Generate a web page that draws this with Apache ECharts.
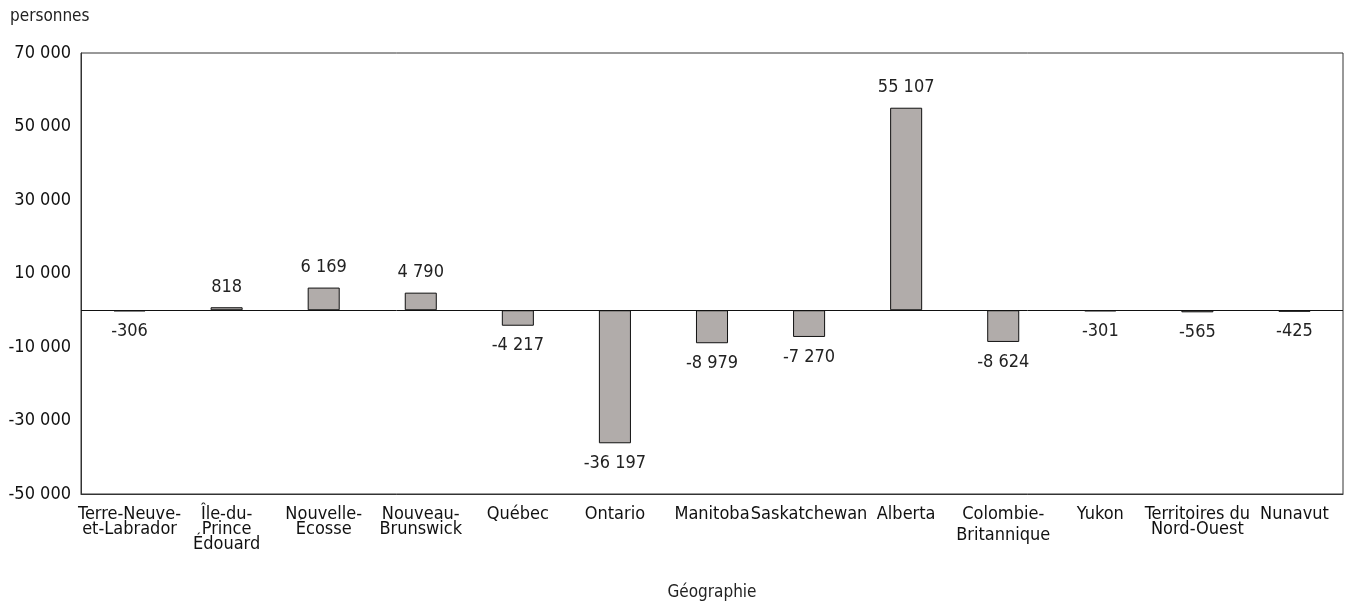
<!DOCTYPE html>
<html>
<head>
<meta charset="utf-8">
<script src="https://cdn.jsdelivr.net/npm/echarts@6/dist/echarts.min.js"></script>
<style>
  html, body { margin: 0; padding: 0; background: #fff; }
  #main { width: 1354px; height: 606px; }
</style>
</head>
<body>
<div id="main"></div>
<script>
// provinces / territories
const categories = [
  'Terre-Neuve-\net-Labrador', 'Île-du-\nPrince\nÉdouard', 'Nouvelle-\nÉcosse', 'Nouveau-\nBrunswick',
  'Québec', 'Ontario', 'Manitoba', 'Saskatchewan', 'Alberta', 'Colombie-\nBritannique',
  'Yukon', 'Territoires du\nNord-Ouest', 'Nunavut'
];
const values = [-306, 818, 6169, 4790, -4217, -36197, -8979, -7270, 55107, -8624, -301, -565, -425];
const yTicks = [-50000, -30000, -10000, 10000, 30000, 50000, 70000];

const FONT = '"DejaVu Sans Condensed", "Liberation Sans Narrow", sans-serif';

const fmt = v => {
  const s = String(Math.abs(v)).replace(/\B(?=(\d{3})+(?!\d))/g, ' ');
  return (v < 0 ? '-' : '') + s;
};

const chart = echarts.init(document.getElementById('main'));

const option = {
  animation: false,
  backgroundColor: '#fff',
  grid: {
    left: 81, right: 11, top: 53, bottom: 107,
    show: true, borderColor: '#333', borderWidth: 1
  },
  xAxis: {
    type: 'category',
    // Colombie-Britannique is set with normal line spacing in the original
    data: categories.map(c => c.startsWith('Colombie')
      ? { value: c, textStyle: { lineHeight: 21, padding: [-3, 0, 0, 0] } }
      : c),
    name: 'Géographie',
    nameLocation: 'middle',
    nameGap: 90,
    nameTextStyle: { fontFamily: FONT, fontSize: 17, color: '#222' },
    axisLine: { onZero: false, lineStyle: { color: '#333' } },
    axisTick: { show: false },
    axisLabel: {
      interval: 0, margin: 13, fontFamily: FONT, fontSize: 18, color: '#111',
      lineHeight: 15, verticalAlign: 'top'
    }
  },
  yAxis: {
    type: 'value',
    min: -50000,
    max: 70000,
    interval: 20000,
    name: 'personnes',
    nameLocation: 'end',
    nameGap: 28,
    nameTextStyle: { fontFamily: FONT, fontSize: 17, color: '#222', align: 'left', padding: [0, 0, 0, -71] },
    splitLine: { show: false },
    axisTick: { show: false },
    axisLine: { show: true, lineStyle: { color: '#333' } },
    axisLabel: {
      fontFamily: FONT, fontSize: 18, color: '#111', margin: 10,
      formatter: v => yTicks.includes(v) ? fmt(v) : ''
    }
  },
  series: [{
    type: 'bar',
    data: values.map(v => ({
      value: v,
      label: { position: v < 0 ? 'bottom' : 'top' }
    })),
    barWidth: '33%',
    itemStyle: { color: '#b1acaa', borderColor: '#111', borderWidth: 1 },
    label: {
      show: true, distance: 11, fontFamily: FONT, fontSize: 18, color: '#222',
      formatter: p => fmt(p.value)
    },
    markLine: {
      silent: true,
      symbol: 'none',
      label: { show: false },
      lineStyle: { color: '#111', width: 1, type: 'solid' },
      data: [{ yAxis: 0 }]
    }
  }]
};

chart.setOption(option);
</script>
</body>
</html>
